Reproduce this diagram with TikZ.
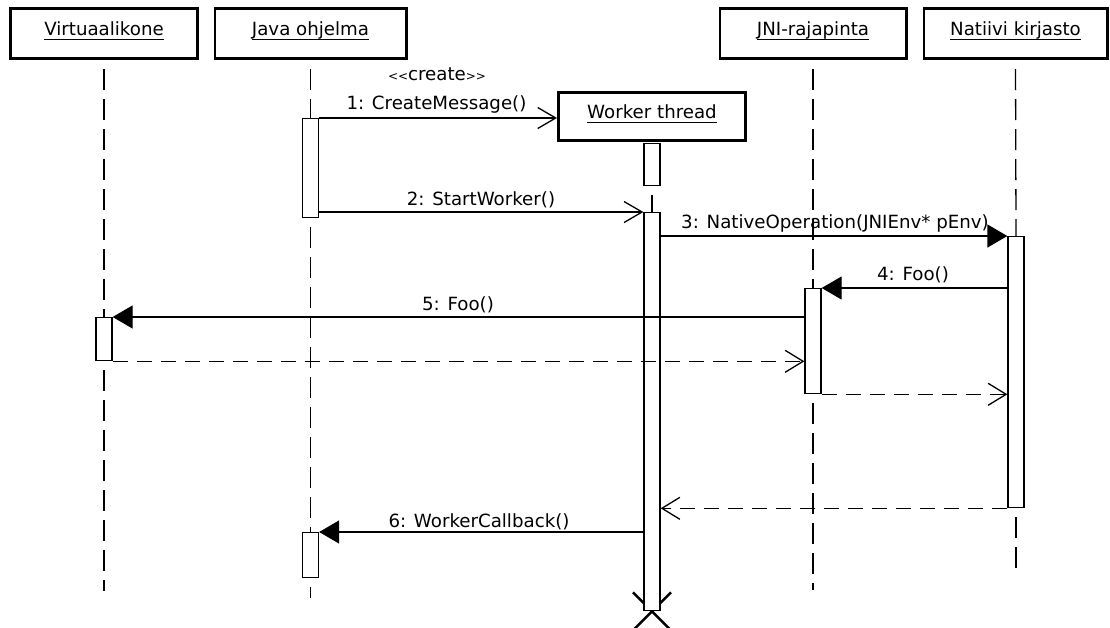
\documentclass[tikz,border=0pt]{standalone}
\usepackage{fontspec}
\setmainfont{DejaVu Sans}
\usetikzlibrary{arrows.meta,backgrounds}

% underlined object name with the rule at a fixed distance below the baseline
\newcommand\objname[1]{\setbox0\hbox{#1}\rlap{\rule[-5pt]{\wd0}{1.4pt}}\box0}

\begin{document}
\begin{tikzpicture}[x=1pt,y=-1pt,
  every node/.style={font=\fontsize{18.2}{20}\selectfont},
  header/.style={draw, line width=2.6pt, fill=white, inner sep=0pt,
    minimum height=50.4pt, text height=13pt, text depth=10pt},
  lifeline/.style={line width=1.3pt, dash pattern=on 21pt off 9pt, dash phase=21pt},
  act/.style={draw, fill=white, line width=1.3pt, minimum width=16pt, inner sep=0pt},
  call/.style={line width=1.3pt, -{Triangle[length=20pt,width=23pt]}},
  create/.style={line width=1.3pt, -{Straight Barb[length=18pt,width=21pt]}},
  reply/.style={line width=1.3pt, dash pattern=on 15pt off 9pt,
    -{Straight Barb[length=18pt,width=22pt]}},
  lbl/.style={anchor=base, inner sep=0pt},
]
\useasboundingbox (0,0) rectangle (1110,627);

% object heads
\node[header, minimum width=187.4pt] (vk) at (104,33.5) {\objname{Virtuaalikone}};
\node[header, minimum width=191.4pt] (jo) at (310.5,33.5) {\objname{Java ohjelma}};
\node[header, minimum width=186.4pt] (jn) at (813,33.5) {\objname{JNI-rajapinta}};
\node[header, minimum width=183.4pt] (nk) at (1015.5,33.5) {\objname{Natiivi kirjasto}};
\node[header, minimum width=187.4pt, minimum height=48.4pt] (wt) at (652,116.5) {\objname{Worker thread}};

% activation bars
\node[act, anchor=north, minimum height=99pt] (ja1) at (310.5,118) {};
\node[act, anchor=north, minimum height=45pt] (ja2) at (310.5,532) {};
\node[act, anchor=north, minimum height=42pt] (wa0) at (652,142.5) {};
\node[act, anchor=north, minimum height=398pt] (wa1) at (652,212) {};
\node[act, anchor=north, minimum height=271pt] (na) at (1016,236) {};
\node[act, anchor=north, minimum height=105pt] (jna) at (813,288) {};
\node[act, anchor=north, minimum height=43pt] (va) at (104,317) {};

% end points of the lifelines
\coordinate (vkend) at (104,591);
\coordinate (joend) at (310.5,598);
\coordinate (jnend) at (813,590);
\coordinate (nkend) at (1016,570);

\begin{scope}[on background layer]
  % lifelines
  \draw[lifeline] (vk.south) -- (va.north);
  \draw[lifeline] (va.south) -- (vkend);
  \draw[lifeline] (jo.south) -- (ja1.north);
  \draw[lifeline] (ja1.south) -- (ja2.north);
  \draw[lifeline] (ja2.south) -- (joend);
  \draw[lifeline] (wa0.south) -- (wa1.north);
  \draw[lifeline] (jn.south) -- (jna.north);
  \draw[lifeline] (jna.south) -- (jnend);
  \draw[lifeline] (nk.south) -- (na.north);
  \draw[lifeline] (na.south) -- (nkend);
  % destruction of the worker thread
  \draw[line width=2.5pt] ([shift={(-19,-19)}]wa1.south) -- ([shift={(19,19)}]wa1.south)
                          ([shift={(19,-19)}]wa1.south) -- ([shift={(-19,19)}]wa1.south);
\end{scope}

% messages
\draw[create] (ja1.north east) -- (ja1.north east -| wt.west);
\node[lbl] (lcr) at (437,80) {{\fontsize{12}{14}\selectfont<\kern0pt<}create{\fontsize{12}{14}\selectfont>\kern0pt>}};
\node[lbl] (l1) at (436.5,109) {1: CreateMessage()};

\draw[create] (wa1.north west -| ja1.east) -- (wa1.north west);
\node[lbl] (l2) at (481,205) {2: StartWorker()};

\draw[call] (na.north west -| wa1.east) -- (na.north west);
\node[lbl] (l3) at (835,228) {3: NativeOperation(JNIEnv* pEnv)};

\draw[call] (jna.north -| na.west) -- (jna.north east);
\node[lbl] (l4) at (913,280) {4: Foo()};

\draw[call] (va.north -| jna.west) -- (va.north east);
\node[lbl] (l5) at (458,310) {5: Foo()};

\draw[reply] (va.south east) -- (va.south east -| jna.west);
\draw[reply] (jna.south east) -- (jna.south east -| na.west);
\draw[reply] (na.south west) -- (na.south west -| wa1.east);

\draw[call] (ja2.north -| wa1.west) -- (ja2.north east);
\node[lbl] (l6) at (479,527) {6: WorkerCallback()};
\end{tikzpicture}
\end{document}
